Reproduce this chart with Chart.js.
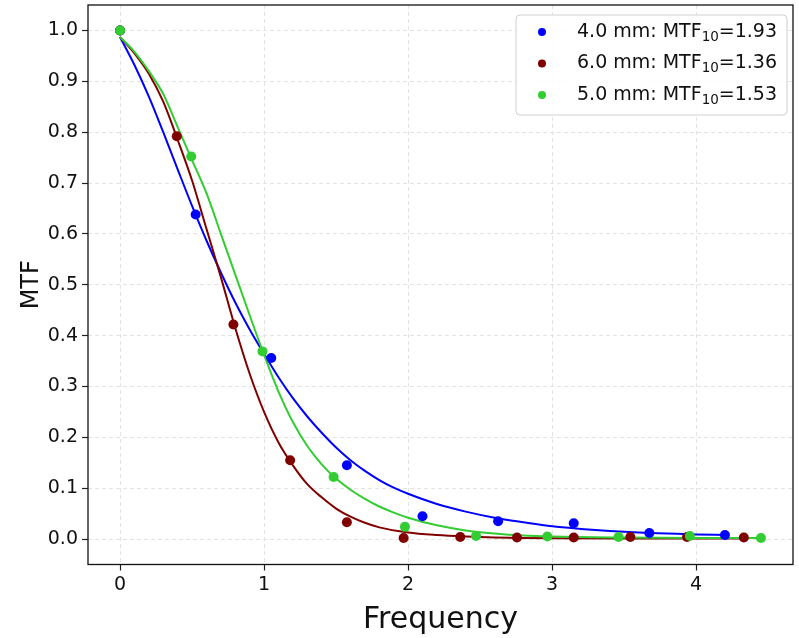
<!DOCTYPE html>
<html><head><meta charset="utf-8">
<script src="https://cdn.jsdelivr.net/npm/chart.js@4.4.0/dist/chart.umd.min.js"></script>
<style>html,body{margin:0;padding:0;background:#fff;}</style>
</head><body>
<canvas id="c" width="799" height="638"></canvas>
<script>
// ---- data ----
const seriesNames = ['4.0 mm', '6.0 mm', '5.0 mm'];
const mtf10Values = ['1.93', '1.36', '1.53'];
const seriesColors = ['#0000ff', '#800000', '#32cd32'];

const blueX = [0, 0.525, 1.05, 1.575, 2.10, 2.625, 3.15, 3.675, 4.20];
const blueY = [1.0, 0.638, 0.356, 0.145, 0.045, 0.035, 0.031, 0.012, 0.008];
const redX = [0, 0.394, 0.787, 1.181, 1.575, 1.969, 2.362, 2.756, 3.15, 3.543, 3.937, 4.331];
const redY = [1.0, 0.792, 0.422, 0.155, 0.033, 0.002, 0.004, 0.003, 0.003, 0.004, 0.004, 0.003];
const greenX = [0, 0.494, 0.989, 1.483, 1.978, 2.472, 2.967, 3.461, 3.956, 4.45];
const greenY = [1.0, 0.752, 0.369, 0.122, 0.024, 0.006, 0.005, 0.004, 0.006, 0.002];

const blueFitX = [0,0.1,0.2,0.3,0.4,0.5,0.6,0.7,0.8,0.9,1.0,1.1,1.2,1.3,1.4,1.5,1.6,1.7,1.8,1.9,2.0,2.2,2.4,2.6,2.8,3.0,3.2,3.4,3.6,3.8,4.0,4.2];
const blueFitY = [0.987,0.932,0.87,0.80,0.727,0.655,0.587,0.524,0.465,0.412,0.364,0.318,0.277,0.241,0.209,0.180,0.155,0.134,0.116,0.101,0.089,0.069,0.054,0.042,0.033,0.025,0.020,0.016,0.013,0.011,0.009,0.008];
const redFitX = [0,0.1,0.2,0.3,0.4,0.5,0.6,0.7,0.8,0.9,1.0,1.1,1.2,1.3,1.4,1.5,1.6,1.7,1.8,2.0,2.2,2.4,2.6,2.8,3.0,3.5,4.0,4.33];
const redFitY = [0.987,0.955,0.915,0.86,0.785,0.705,0.61,0.515,0.415,0.325,0.25,0.19,0.145,0.108,0.082,0.060,0.044,0.032,0.023,0.013,0.008,0.005,0.003,0.002,0.0015,0.001,0.001,0.001];
const greenFitX = [0,0.1,0.2,0.3,0.4,0.5,0.6,0.7,0.8,0.9,1.0,1.1,1.2,1.3,1.4,1.5,1.6,1.7,1.8,1.9,2.0,2.2,2.4,2.6,2.8,3.0,3.5,4.0,4.45];
const greenFitY = [0.987,0.958,0.92,0.875,0.81,0.745,0.68,0.60,0.52,0.44,0.362,0.29,0.23,0.183,0.147,0.119,0.097,0.079,0.064,0.052,0.042,0.027,0.017,0.011,0.007,0.005,0.003,0.002,0.002];

const xTicks = [0, 1, 2, 3, 4];
const yTicks = [0.0, 0.1, 0.2, 0.3, 0.4, 0.5, 0.6, 0.7, 0.8, 0.9, 1.0];
const xTitle = 'Frequency';
const yTitle = 'MTF';

// ---- build datasets ----
const zip = (xs, ys) => xs.map((x, i) => ({x: x, y: ys[i]}));
const pts = [zip(blueX, blueY), zip(redX, redY), zip(greenX, greenY)];
const fits = [zip(blueFitX, blueFitY), zip(redFitX, redFitY), zip(greenFitX, greenFitY)];

const datasets = [];
fits.forEach((d, i) => datasets.push({
  label: 'fit ' + seriesNames[i], data: d, showLine: true, pointRadius: 0,
  borderColor: seriesColors[i], backgroundColor: seriesColors[i], borderWidth: 2,
  cubicInterpolationMode: 'monotone', order: 5 - i
}));
pts.forEach((d, i) => datasets.push({
  label: seriesNames[i] + ': MTF\u2081\u2080=' + mtf10Values[i], data: d, showLine: false,
  pointRadius: 5, pointHoverRadius: 5, borderWidth: 0,
  pointBackgroundColor: seriesColors[i], pointBorderColor: seriesColors[i],
  backgroundColor: seriesColors[i], order: 2 - i
}));

const FONT = "'DejaVu Sans', sans-serif";

const framePlugin = {
  id: 'frame',
  afterDraw(chart) {
    const {ctx, chartArea: a} = chart;
    ctx.save();
    ctx.strokeStyle = '#111';
    ctx.lineWidth = 1.3;
    ctx.strokeRect(a.left, a.top, a.right - a.left, a.bottom - a.top);
    // legend
    const bw = 271, bh = 100;
    const bx = a.right - 6 - bw, by = a.top + 10;
    ctx.fillStyle = 'rgba(255,255,255,0.85)';
    ctx.strokeStyle = '#d0d0d0';
    ctx.lineWidth = 1;
    ctx.beginPath();
    ctx.roundRect(bx, by, bw, bh, 4);
    ctx.fill(); ctx.stroke();
    const rowH = 31.5;
    for (let i = 0; i < seriesNames.length; i++) {
      const cy = by + 17 + i * rowH;
      ctx.fillStyle = seriesColors[i];
      ctx.beginPath(); ctx.arc(bx + 26, cy, 4, 0, Math.PI * 2); ctx.fill();
      ctx.fillStyle = '#111';
      ctx.textBaseline = 'middle';
      ctx.textAlign = 'left';
      let tx = bx + 61;
      const p1 = seriesNames[i] + ': MTF';
      ctx.font = '19px ' + FONT;
      ctx.fillText(p1, tx, cy); tx += ctx.measureText(p1).width;
      ctx.font = '13.5px ' + FONT;
      ctx.fillText('10', tx, cy + 5); tx += ctx.measureText('10').width;
      ctx.font = '19px ' + FONT;
      ctx.fillText('=' + mtf10Values[i], tx, cy);
    }
    ctx.restore();
  }
};

new Chart(document.getElementById('c'), {
  type: 'scatter',
  data: {datasets},
  plugins: [framePlugin],
  options: {
    responsive: false, animation: false, devicePixelRatio: 1,
    layout: {padding: {top: 4.5, right: 6, left: 0, bottom: 0}},
    plugins: {legend: {display: false}, tooltip: {enabled: false}},
    scales: {
      x: {
        type: 'linear', min: -0.2225, max: 4.6725,
        afterBuildTicks: s => { s.ticks = xTicks.map(v => ({value: v})); },
        afterFit: s => { s.height = 73.5; s.paddingLeft = 0; s.paddingRight = 0; },
        ticks: {color: '#111', font: {family: FONT, size: 19}, padding: 3, callback: v => String(v)},
        grid: {color: '#e3e3e3', lineWidth: 1, tickLength: 6, tickColor: '#222', tickWidth: 1.2},
        border: {display: false, dash: [4, 3]},
        title: {display: true, text: xTitle, color: '#111', font: {family: FONT, size: 30, lineHeight: 1}, padding: {top: 0, bottom: 3}}
      },
      y: {
        type: 'linear', min: -0.05, max: 1.05,
        afterBuildTicks: s => { s.ticks = yTicks.map(v => ({value: v})); },
        afterFit: s => { s.width = 88; s.paddingTop = 0; s.paddingBottom = 0; },
        ticks: {color: '#111', font: {family: FONT, size: 19}, padding: 4, callback: v => v.toFixed(1)},
        grid: {color: '#e3e3e3', lineWidth: 1, tickLength: 6, tickColor: '#222', tickWidth: 1.2},
        border: {display: false, dash: [4, 3]},
        title: {display: true, text: yTitle, color: '#111', font: {family: FONT, size: 24, lineHeight: 1}, padding: {top: 20, bottom: 0}}
      }
    }
  }
});
</script>
</body></html>
